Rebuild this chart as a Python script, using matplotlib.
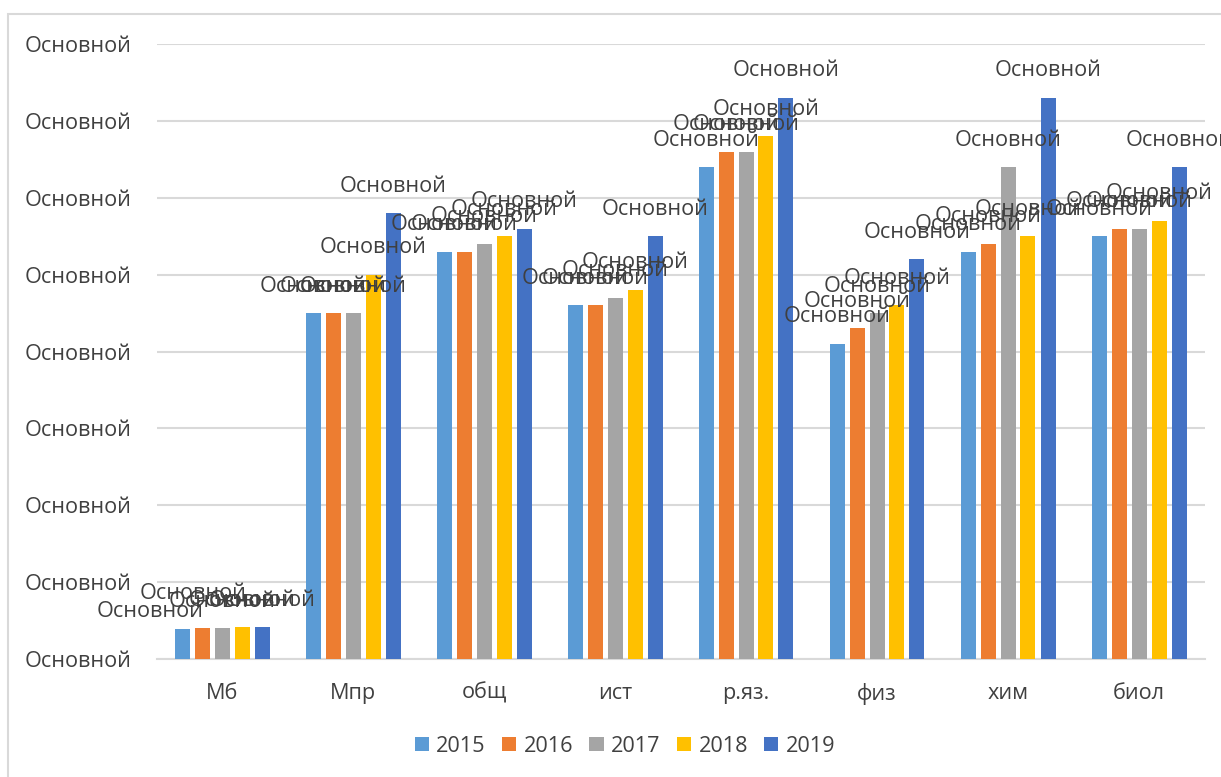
import matplotlib
matplotlib.use("Agg")
import matplotlib.pyplot as plt
import numpy as np
from matplotlib.patches import Rectangle

categories = ["Мб", "Мпр", "общ", "ист", "р.яз.", "физ", "хим", "биол"]
years = ["2015", "2016", "2017", "2018", "2019"]
v2015 = [3.9, 45, 53, 46, 64, 41, 53, 55]
v2016 = [4.0, 45, 53, 46, 66, 43, 54, 56]
v2017 = [4.0, 45, 54, 47, 66, 45, 64, 56]
v2018 = [4.1, 50, 55, 48, 68, 46, 55, 57]
v2019 = [4.1, 58, 56, 55, 73, 52, 73, 64]
series = [v2015, v2016, v2017, v2018, v2019]
yticks = [0, 10, 20, 30, 40, 50, 60, 70, 80]
tick_text = "Основной"
label_text = "Основной"

colors = ["#5B9BD5", "#ED7D31", "#A5A5A5", "#FFC000", "#4472C4"]
text_color = "#404040"
grid_color = "#D9D9D9"

# manually dragged labels in the original (pixel shifts: series index, category index -> dx, dy)
label_shift = {(0, 0): (-32, -9), (1, 0): (-9, 8)}

W, H = 1221, 777
plt.rcParams['font.family'] = ['Open Sans', 'DejaVu Sans']
fig = plt.figure(figsize=(W / 100, H / 100), dpi=100)

r = fig.canvas.get_renderer()
t = fig.text(0, 0, label_text, fontsize=10)
wpx = t.get_window_extent(renderer=r).width
t.remove()
fs = 10 * 106 / wpx

fig.patches.append(Rectangle((8 / W, -0.01), 1.02, 1 - 14 / H + 0.01, transform=fig.transFigure,
                             fill=False, edgecolor=grid_color, linewidth=1.5))

ax = fig.add_axes([156.5 / W, (H - 659) / H, (1204.5 - 156.5) / W, (659 - 44) / H])
ax.set_ylim(0, 80)
ax.set_xlim(-0.5, len(categories) - 0.5)

x = np.arange(len(categories))
pitch = 20 / 131
bw = 15 / 131
px2pt = 0.72
for i, (vals, c, yr) in enumerate(zip(series, colors, years)):
    pos = x + (i - 2) * pitch
    ax.bar(pos, vals, width=bw, color=c, label=yr, zorder=3, linewidth=0)
    for j, (xp, v) in enumerate(zip(pos, vals)):
        dx, dy = label_shift.get((i, j), (0, 0))
        ax.annotate(label_text, (xp, v), xytext=(dx * px2pt, (27 + dy) * px2pt),
                    textcoords="offset points", ha="center", va="center", fontsize=fs,
                    color=text_color, zorder=5, annotation_clip=False)

ax.set_yticks(yticks)
ax.set_yticklabels([tick_text] * len(yticks), fontsize=fs, color=text_color)
ax.set_xticks(x)
ax.set_xticklabels(categories, fontsize=fs, color=text_color)
ax.tick_params(axis="both", length=0)
ax.tick_params(axis="y", pad=18)
ax.tick_params(axis="x", pad=17)
ax.grid(axis="y", color=grid_color, linewidth=1.5, zorder=0)
for s in ["top", "right", "left"]:
    ax.spines[s].set_visible(False)
ax.spines["bottom"].set_color(grid_color)
ax.spines["bottom"].set_linewidth(1.5)

fig.legend(loc="center", bbox_to_anchor=(625 / W, 1 - 746 / H), ncol=5, frameon=False,
           fontsize=fs, handlelength=0.65, handleheight=0.65, handletextpad=0.35,
           columnspacing=0.75, labelcolor=text_color)

fig.savefig("out.png", dpi=100)
